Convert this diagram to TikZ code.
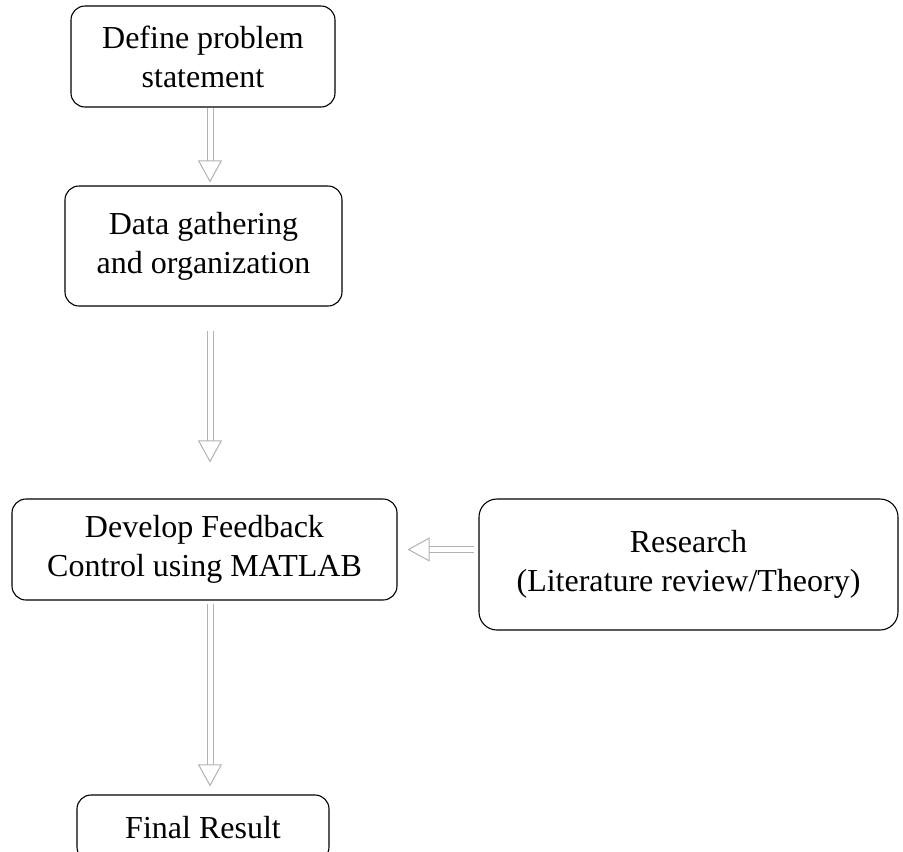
\documentclass[tikz,border=0pt]{standalone}
\usepackage{fontspec}
\setmainfont{Liberation Serif}
\usetikzlibrary{arrows.meta}

\begin{document}
\begin{tikzpicture}[x=1pt,y=-1pt,
    box/.style={draw, line width=1.1pt, rounded corners=14pt, align=center, inner sep=0pt,
      font=\fontsize{32}{39}\selectfont},
    flow/.style={gray!60, line width=1pt, double=white, double distance=5pt,
      -{Triangle[open,length=22pt,width=24pt]}}]
    \useasboundingbox (0,0) rectangle (903,852);
    % boxes
    \node[box, minimum width=264pt, minimum height=101pt] (prob) at (203,56.5) {Define problem\\statement};
    \node[box, minimum width=277pt, minimum height=120pt] (data) at (203.5,246) {Data gathering\\and organization};
    \node[box, minimum width=385pt, minimum height=101pt] (dev) at (204.5,549.5) {Develop Feedback\\Control using MATLAB};
    \node[box, minimum width=419pt, minimum height=131pt, rounded corners=18pt] (res) at (688.5,564.5) {Research\\(Literature review/Theory)};
    \node[box, minimum width=252pt, minimum height=66pt] (final) at (203,828) {Final Result};
    % arrows
    \draw[flow, shorten >=3pt] ([xshift=7pt]prob.south) -- ([xshift=7pt]prob.south |- data.north);
    \draw[flow, shorten <=24pt, shorten >=36pt] ([xshift=6.5pt]data.south) -- ([xshift=6.5pt]data.south |- dev.north);
    \draw[flow, shorten <=3pt, shorten >=8pt] ([xshift=5.5pt]dev.south) -- ([xshift=5.5pt]dev.south |- final.north);
    \draw[flow, shorten <=4pt, shorten >=10pt] (res.west |- dev.east) -- (dev.east);
\end{tikzpicture}
\end{document}
